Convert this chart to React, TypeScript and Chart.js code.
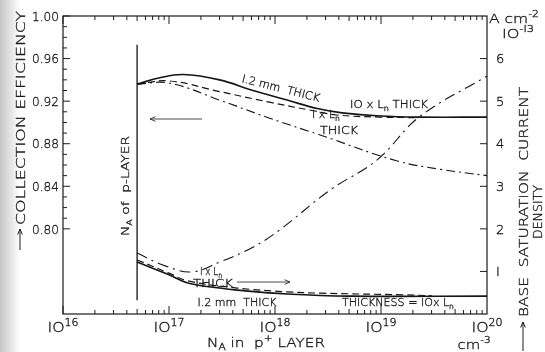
import React, { useEffect, useRef } from "react";
import { Chart, registerables } from "chart.js";
Chart.register(...registerables);

// ---------- data ----------
const xTickValues = [1e16, 1e17, 1e18, 1e19, 1e20];
const xTickExponents = ["16", "17", "18", "19", "20"];
const effTickValues = [0.8, 0.84, 0.88, 0.92, 0.96, 1.0];
const effTickLabels = ["0.80", "0.84", "0.88", "0.92", "0.96", "1.00"];
const jTickValues = [1, 2, 3, 4, 5, 6];
const jTickLabels = ["I", "2", "3", "4", "5", "6"];

const pLayerNA = 5e16;
const pLayerLineY = [0.973, 0.733];

// collection efficiency (left axis)
const effSolidX = [5e16, 8.2e16, 1.36e17, 3.0e17, 6.2e17, 1.3e18, 2.5e18, 4.3e18, 9.8e18, 2.3e19, 1e20];
const effSolidY = [0.936, 0.942, 0.945, 0.94, 0.93, 0.921, 0.913, 0.909, 0.906, 0.905, 0.905];
const effDashX = [5e16, 1.0e17, 3.0e17, 8.9e17, 2.3e18, 3.8e18, 9.8e18, 2.3e19];
const effDashY = [0.936, 0.939, 0.929, 0.919, 0.911, 0.907, 0.905, 0.9045];
const effDotX = [5e16, 1.0e17, 3.0e17, 8.9e17, 2.7e18, 1.4e19, 3.6e19, 1e20];
const effDotY = [0.936, 0.937, 0.921, 0.904, 0.888, 0.864, 0.856, 0.85];

// base saturation current density (right axis, 1e-13 A cm^-2)
const jDotX = [5e16, 9.2e16, 1.65e17, 3.0e17, 6.2e17, 1.1e18, 3.3e18, 9.2e18, 2.3e19, 1e20];
const jDotY = [1.43, 1.13, 0.99, 1.22, 1.57, 1.97, 2.91, 3.62, 4.63, 5.59];
const jSolidX = [5e16, 1.0e17, 1.5e17, 3.0e17, 4.4e17, 1.3e18, 5.1e18, 1e20];
const jSolidY = [1.22, 0.92, 0.73, 0.61, 0.56, 0.47, 0.42, 0.42];
const jDashX = [5e16, 1.0e17, 1.5e17, 4.4e17, 1.3e18, 2.7e18, 1.6e19, 3.0e19];
const jDashY = [1.27, 0.96, 0.78, 0.61, 0.52, 0.49, 0.45, 0.43];

const pts = (xs: number[], ys: number[]) => xs.map((x, i) => ({ x, y: ys[i] }));

// ---------- drawing helpers ----------
const FONT = '"DejaVu Sans"';
const WEIGHT = "200";
const INK = "#1c1c1c";
type Seg = [string, "n" | "sup" | "sub"];

function rich(
  ctx: CanvasRenderingContext2D,
  segs: Seg[],
  x: number,
  y: number,
  size: number,
  opt: { align?: "left" | "center" | "right"; width?: number; rot?: number } = {}
) {
  ctx.save();
  ctx.translate(x, y);
  if (opt.rot) ctx.rotate(opt.rot);
  ctx.textBaseline = "alphabetic";
  ctx.textAlign = "left";
  ctx.fillStyle = INK;
  ctx.strokeStyle = INK;
  ctx.lineWidth = 0.35;
  const sz = (k: string) => (k === "n" ? size : size * 0.7);
  let w = 0;
  const ws: number[] = [];
  for (const [t, k] of segs) {
    ctx.font = `${WEIGHT} ${sz(k)}px ${FONT}`;
    const m = ctx.measureText(t).width;
    ws.push(m);
    w += m;
  }
  const sx = opt.width ? opt.width / w : 1;
  ctx.scale(sx, 1);
  const align = opt.align || "center";
  let cx = align === "center" ? -w / 2 : align === "right" ? -w : 0;
  const capMid = size * 0.36;
  segs.forEach(([t, k], i) => {
    ctx.font = `${WEIGHT} ${sz(k)}px ${FONT}`;
    const dy = k === "sup" ? -size * 0.42 : k === "sub" ? size * 0.28 : 0;
    ctx.fillText(t, cx, capMid + dy);
    ctx.strokeText(t, cx, capMid + dy);
    cx += ws[i];
  });
  ctx.restore();
}

function arrow(ctx: CanvasRenderingContext2D, x1: number, y1: number, x2: number, y2: number, lw = 1) {
  ctx.save();
  ctx.strokeStyle = INK;
  ctx.lineWidth = lw;
  ctx.beginPath();
  ctx.moveTo(x1, y1);
  ctx.lineTo(x2, y2);
  ctx.stroke();
  const a = Math.atan2(y2 - y1, x2 - x1);
  const h = 6;
  ctx.beginPath();
  ctx.moveTo(x2 - h * Math.cos(a - 0.4), y2 - h * Math.sin(a - 0.4));
  ctx.lineTo(x2, y2);
  ctx.lineTo(x2 - h * Math.cos(a + 0.4), y2 - h * Math.sin(a + 0.4));
  ctx.stroke();
  ctx.restore();
}

const decorPlugin = {
  id: "decor",
  beforeDraw(chart: any) {
    const ctx: CanvasRenderingContext2D = chart.ctx;
    ctx.save();
    ctx.fillStyle = "#ffffff";
    ctx.fillRect(0, 0, chart.width, chart.height);
    const g = ctx.createLinearGradient(0, 0, 20, 0);
    g.addColorStop(0, "rgba(150,150,150,0.55)");
    g.addColorStop(1, "rgba(150,150,150,0)");
    ctx.fillStyle = g;
    ctx.fillRect(0, 0, 20, chart.height);
    ctx.restore();
  },
  afterDraw(chart: any) {
    const ctx: CanvasRenderingContext2D = chart.ctx;
    const { left, right, top, bottom } = chart.chartArea;
    const sx = chart.scales.x;
    const sl = chart.scales.y;
    const sr = chart.scales.y2;
    ctx.save();
    ctx.strokeStyle = INK;
    ctx.lineWidth = 1.2;
    ctx.strokeRect(left, top, right - left, bottom - top);

    ctx.lineWidth = 1;
    ctx.beginPath();
    for (let i = 80; i <= 100; i++) {
      const y = sl.getPixelForValue(i / 100);
      const len = i % 4 === 0 ? 7 : 4;
      ctx.moveTo(left, y);
      ctx.lineTo(left + len, y);
    }
    for (const v of jTickValues) {
      const y = sr.getPixelForValue(v);
      ctx.moveTo(right, y);
      ctx.lineTo(right - 7, y);
    }
    for (let d = 16; d < 20; d++) {
      for (let m = 1; m <= 9; m++) {
        const px = sx.getPixelForValue(m * Math.pow(10, d));
        const len = m === 1 ? 8 : m === 5 ? 5 : 4;
        ctx.moveTo(px, bottom);
        ctx.lineTo(px, bottom - len);
        ctx.moveTo(px, top);
        ctx.lineTo(px, top + len);
      }
    }
    ctx.stroke();
    ctx.restore();

    effTickValues.forEach((v, i) => {
      rich(ctx, [[effTickLabels[i], "n"]], left - 4, sl.getPixelForValue(v), 13, { align: "right", width: 27 });
    });
    jTickValues.forEach((v, i) => {
      rich(ctx, [[jTickLabels[i], "n"]], right + 9, sr.getPixelForValue(v), 13, { align: "left" });
    });
    xTickValues.forEach((v, i) => {
      rich(ctx, [["IO", "n"], [xTickExponents[i], "sup"]], sx.getPixelForValue(v), 327, 14, { align: "center", width: 31 });
    });

    rich(ctx, [["COLLECTION EFFICIENCY", "n"]], 20, 118, 13, { rot: -Math.PI / 2, width: 214 });
    arrow(ctx, 20, 250, 20, 229);
    rich(ctx, [["BASE  SATURATION  CURRENT", "n"]], 523, 202, 13, { rot: -Math.PI / 2, width: 230 });
    rich(ctx, [["DENSITY", "n"]], 537, 212, 13, { rot: -Math.PI / 2, width: 54 });
    arrow(ctx, 523, 351, 523, 322);
    rich(ctx, [["N", "n"], ["A", "sub"], [" in  p", "n"], ["+", "sup"], [" LAYER", "n"]], 266, 342, 13, { width: 118 });
    rich(ctx, [["cm", "n"], ["-3", "sup"]], 474, 344, 13, { width: 33 });
    rich(ctx, [["A cm", "n"], ["-2", "sup"]], 514, 18, 13, { width: 50 });
    rich(ctx, [["IO", "n"], ["-I3", "sup"]], 518, 33, 13, { width: 32 });

    rich(ctx, [["N", "n"], ["A", "sub"], [" of  p-LAYER", "n"]], 125, 186, 11, { rot: -Math.PI / 2, width: 100 });
    rich(ctx, [["I.2 mm  THICK", "n"]], 281, 88, 11, { rot: 0.25, width: 80 });
    rich(ctx, [["IO x L", "n"], ["n", "sub"], [" THICK", "n"]], 389, 104, 11, { width: 78 });
    rich(ctx, [["I x L", "n"], ["n", "sub"]], 326, 114, 11, { width: 28 });
    rich(ctx, [["THICK", "n"]], 339, 130, 11, { width: 38 });
    arrow(ctx, 202, 119, 150, 119, 0.8);
    rich(ctx, [["I x L", "n"], ["n", "sub"]], 211, 271, 11, { width: 22 });
    rich(ctx, [["THICK", "n"]], 213, 283, 11, { width: 40 });
    arrow(ctx, 237, 282, 290, 282, 0.8);
    rich(ctx, [["I.2 mm  THICK", "n"]], 237, 302, 11, { width: 79 });
    rich(ctx, [["THICKNESS = IOx L", "n"], ["n", "sub"]], 398, 302, 11, { width: 112 });
  },
};

export default function App() {
  const ref = useRef<HTMLCanvasElement | null>(null);
  useEffect(() => {
    document.body.style.margin = "0";
    const canvas = ref.current!;
    const common = { pointRadius: 0, borderColor: "#151515", fill: false, tension: 0.4 };
    const chart = new Chart(canvas, {
      type: "line",
      data: {
        datasets: [
          { ...common, data: pts(effSolidX, effSolidY), yAxisID: "y", borderWidth: 1.6 },
          { ...common, data: pts(effDashX, effDashY), yAxisID: "y", borderWidth: 1.2, borderDash: [7, 4] },
          { ...common, data: pts(effDotX, effDotY), yAxisID: "y", borderWidth: 1.1, borderDash: [9, 4, 2, 4] },
          { ...common, data: pts(jDotX, jDotY), yAxisID: "y2", borderWidth: 1.1, borderDash: [11, 5, 2, 5] },
          { ...common, data: pts(jSolidX, jSolidY), yAxisID: "y2", borderWidth: 1.6 },
          { ...common, data: pts(jDashX, jDashY), yAxisID: "y2", borderWidth: 1.2, borderDash: [7, 4] },
          {
            ...common,
            tension: 0,
            data: pts([pLayerNA, pLayerNA], pLayerLineY),
            yAxisID: "y",
            borderWidth: 1.3,
          },
        ],
      },
      options: {
        responsive: false,
        animation: false,
        layout: { padding: { left: 63, right: 58, top: 16, bottom: 38 } },
        plugins: { legend: { display: false }, tooltip: { enabled: false } },
        scales: {
          x: { type: "logarithmic", min: 1e16, max: 1e20, display: false },
          y: { type: "linear", min: 0.72, max: 1.0, display: false },
          y2: { type: "linear", min: 0, max: 7, display: false, position: "right" },
        },
      },
      plugins: [decorPlugin],
    });
    return () => chart.destroy();
  }, []);
  return <canvas ref={ref} width={545} height={352} style={{ display: "block" }} />;
}
